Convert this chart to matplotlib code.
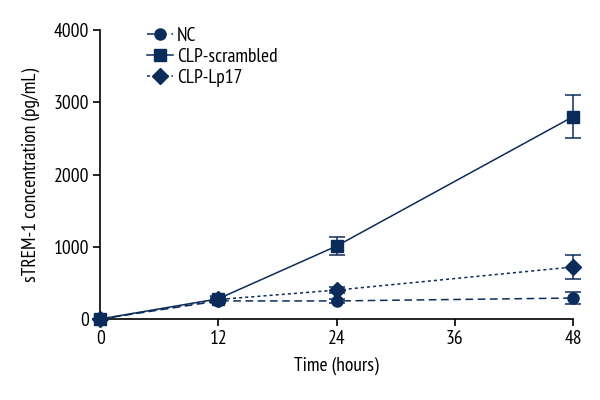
import matplotlib
import matplotlib.pyplot as plt
from matplotlib.lines import Line2D

matplotlib.use("Agg")

hours = [0, 12, 24, 48]
nc_mean = [0, 250, 250, 290]
nc_err = [0, 30, 30, 80]
scr_mean = [0, 280, 1010, 2800]
scr_err = [0, 40, 120, 300]
lp17_mean = [0, 270, 400, 720]
lp17_err = [0, 35, 40, 170]

navy = "#0b2c5a"

plt.rcParams["font.family"] = ["PT Sans Narrow", "DejaVu Sans"]
plt.rcParams["font.stretch"] = "condensed"

fig = plt.figure(figsize=(6, 4), dpi=100)
ax = fig.add_axes([0.167, 0.2025, 0.788, 0.7225])

series = [
    ("NC", nc_mean, nc_err, "o", (0, (5, 3))),
    ("CLP-scrambled", scr_mean, scr_err, "s", "-"),
    ("CLP-Lp17", lp17_mean, lp17_err, "D", (0, (2, 2))),
]
handles = []
for label, mean, err, marker, ls in series:
    ax.errorbar(hours, mean, yerr=err, fmt=marker, linestyle=ls, color=navy,
                markersize=8, capsize=6, elinewidth=1.1, capthick=1.1,
                linewidth=1.1, clip_on=False, zorder=3)
    handles.append(Line2D([], [], color=navy, marker=marker, linestyle=ls,
                          markersize=8, linewidth=1.1, label=label))

ax.set_xlim(0, 48)
ax.set_ylim(0, 4000)
ax.set_xticks([0, 12, 24, 36, 48])
ax.set_yticks([0, 1000, 2000, 3000, 4000])
ax.spines["top"].set_visible(False)
ax.spines["right"].set_visible(False)
ax.spines["left"].set_linewidth(1.2)
ax.spines["bottom"].set_linewidth(1.2)
ax.tick_params(labelsize=14, width=1.2, length=5, pad=3, colors="black")
ax.set_xlabel("Time (hours)", fontsize=14, labelpad=6)
ax.set_ylabel("sTREM-1 concentration (pg/mL)", fontsize=14, labelpad=10)

ax.legend(handles=handles, loc="upper left", bbox_to_anchor=(0.1, 1.01),
          frameon=False, fontsize=14, handlelength=1.3, handletextpad=0.2,
          labelspacing=0.15, borderpad=0, borderaxespad=0)

fig.savefig("out.png", dpi=100)
